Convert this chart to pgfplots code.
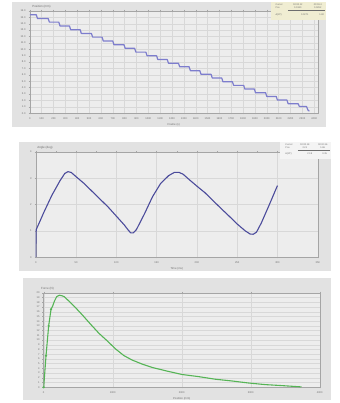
\documentclass[border=0pt]{standalone}
\usepackage{fontspec}
\setmainfont{Liberation Sans}
\usepackage{pgfplots}
\pgfplotsset{compat=1.18}
\definecolor{panelbg}{RGB}{226,226,226}
\definecolor{plotbg}{RGB}{237,237,237}
\definecolor{gridc}{RGB}{216,216,216}
\definecolor{axc}{RGB}{165,165,165}
\definecolor{txtc}{RGB}{110,110,110}
\definecolor{boxc}{RGB}{240,237,210}
\definecolor{line1}{RGB}{125,125,205}
\definecolor{line2}{RGB}{75,75,155}
\definecolor{line3}{RGB}{85,180,85}
\pgfplotsset{
  panel/.style={
    scale only axis, anchor=south west,
    axis background/.style={fill=plotbg},
    grid=major, grid style={gridc, line width=0.3pt},
    axis line style={axc, line width=0.4pt},
    tick style={axc, line width=0.3pt}, major tick length=1.2pt,
    minor tick length=0.8pt,
    tick align=outside,
    ticklabel style={font=\fontsize{2.6}{3}\selectfont, text=txtc},
    label style={font=\fontsize{2.8}{3}\selectfont, text=txtc},
    xlabel shift=-3pt,
    /pgf/number format/assume math mode=true,
    /pgf/number format/1000 sep={},
    xticklabel style={yshift=0.5pt},
    yticklabel style={xshift=0.5pt},
  }
}
\begin{document}
\begin{tikzpicture}
\fill[white] (0pt,0pt) rectangle (342pt,403pt);
% panel backgrounds
\fill[panelbg] (12pt,275pt) rectangle (328pt,401pt);
\fill[panelbg] (19pt,130pt) rectangle (333pt,260pt);
\fill[panelbg] (23pt,0pt) rectangle (333pt,123pt);

% ---------- Panel 1 ----------
\begin{axis}[panel, at={(30pt,289pt)}, width=290pt, height=103pt,
  xmin=0, xmax=2430, ymin=0, ymax=16,
  xtick={0,100,...,2400}, ytick={0,1,...,16},
  yticklabel style={/pgf/number format/fixed,/pgf/number format/fixed zerofill,/pgf/number format/precision=1},
  xlabel={Frame (s)}]
\addplot[line1, line width=1.2pt, line join=round] coordinates {
(0,15.40)(55,15.40)(65,14.80)(155,14.80)(165,14.25)(245,14.25)(255,13.65)(335,13.65)
(345,13.05)(425,13.05)(435,12.48)(520,12.48)(530,11.90)(610,11.90)(620,11.30)(700,11.30)
(710,10.72)(795,10.72)(805,10.15)(885,10.15)(895,9.55)(980,9.55)(990,8.98)(1070,8.98)
(1080,8.40)(1160,8.40)(1170,7.82)(1255,7.82)(1265,7.25)(1345,7.25)(1355,6.65)(1435,6.65)
(1445,6.08)(1530,6.08)(1540,5.50)(1620,5.50)(1630,4.92)(1710,4.92)(1720,4.35)(1805,4.35)
(1815,3.78)(1895,3.78)(1905,3.20)(1990,3.20)(2000,2.62)(2080,2.62)(2090,2.05)(2170,2.05)
(2180,1.48)(2265,1.48)(2275,1.05)(2335,1.05)(2350,0.40)(2360,0.35)};
\end{axis}
\node[anchor=west, font=\fontsize{3}{3.5}\selectfont, text=txtc] at (29pt,396pt) {Position (mm)};
\fill[boxc] (273pt,383pt) rectangle (328pt,401pt);
\begin{scope}[font=\fontsize{2.4}{2.8}\selectfont, text=txtc]
\node[anchor=west] at (274pt,398.5pt) {Cursor};
\node[anchor=west] at (274pt,395.5pt) {Pos.};
\node at (300pt,398.5pt) {00:00.12};
\node at (300pt,395.5pt) {0.0310};
\node at (320pt,398.5pt) {00:03.4};
\node at (320pt,395.5pt) {0.0292};
\draw[txtc, line width=0.2pt] (290pt,392.5pt) -- (327pt,392.5pt);
\node[anchor=west] at (274pt,388pt) {Δ(t/P)};
\node at (307pt,388pt) {0.0271};
\node at (324pt,388pt) {1.82};
\end{scope}

% ---------- Panel 2 ----------
\begin{axis}[panel, at={(36pt,144pt)}, width=284pt, height=106pt,
  xmin=0, xmax=350, ymin=0, ymax=4,
  xtick={0,50,...,350}, minor x tick num=1, ytick={0,1,2,3,4},
  xlabel={Time (ms)}]
\addplot[line2, line width=1.1pt, line join=round] coordinates {
(0,0)(0.3,0.6)(0.6,1.05)(5,1.35)(10,1.7)(20,2.35)(30,2.9)(36,3.18)(40,3.25)(44,3.22)
(50,3.06)(60,2.8)(70,2.5)(80,2.2)(90,1.9)(100,1.56)(110,1.22)(115,1.02)(118,0.92)(121,0.92)
(125,1.05)(135,1.65)(145,2.3)(155,2.8)(165,3.1)(172,3.22)(178,3.22)(183,3.15)(190,2.96)
(200,2.7)(210,2.45)(220,2.15)(230,1.85)(240,1.56)(250,1.26)(260,1.0)(266,0.88)(270,0.87)
(274,0.95)(280,1.3)(290,2.0)(300,2.72)};
\end{axis}
\node[anchor=west, font=\fontsize{3}{3.5}\selectfont, text=txtc] at (34pt,254pt) {Angle (deg)};
\fill[white!60!panelbg] (282pt,243pt) rectangle (333pt,260pt);
\begin{scope}[font=\fontsize{2.4}{2.8}\selectfont, text=txtc]
\node[anchor=west] at (284pt,257pt) {Cursor};
\node[anchor=west] at (284pt,254.5pt) {Pos.};
\node at (307pt,257pt) {00:00.18};
\node at (307pt,254.5pt) {2.21};
\node at (325pt,257pt) {00:02.36};
\node at (325pt,254.5pt) {1.86};
\draw[txtc, line width=0.2pt] (300pt,252pt) -- (332pt,252pt);
\node[anchor=west] at (284pt,248pt) {Δ(t/P)};
\node at (312pt,248pt) {2.18};
\node at (327pt,248pt) {0.35};
\end{scope}

% ---------- Panel 3 ----------
\begin{axis}[panel, at={(44pt,13pt)}, width=278pt, height=95pt,
  xmin=0, xmax=4000, ymin=0, ymax=20,
  xtick={0,1000,...,4000}, ytick={0,1,...,20},
  xlabel={Position (mm)}]
\addplot[line3, line width=1.1pt, mark=*, mark size=0.45pt, mark repeat=1] coordinates {
(0,0)(34,6.7)(72,13)(106,16.5)};
\addplot[line3, line width=1.1pt, line join=round] coordinates {
(106,16.5)(130,17.2)(154,18.2)(188,19.2)(226,19.5)(264,19.4)(298,19.2)(370,18.2)(466,16.8)
(562,15.3)(683,13.3)(803,11.4)(923,9.8)(1043,8.1)(1163,6.7)(1284,5.75)(1428,4.9)(1572,4.2)
(1764,3.5)(2005,2.7)(2245,2.25)(2486,1.7)(2726,1.33)(2966,0.9)(3207,0.56)(3447,0.35)(3736,0.07)};
\end{axis}
\node[anchor=west, font=\fontsize{3}{3.5}\selectfont, text=txtc] at (38pt,112pt) {Force (N)};
\end{tikzpicture}
\end{document}
